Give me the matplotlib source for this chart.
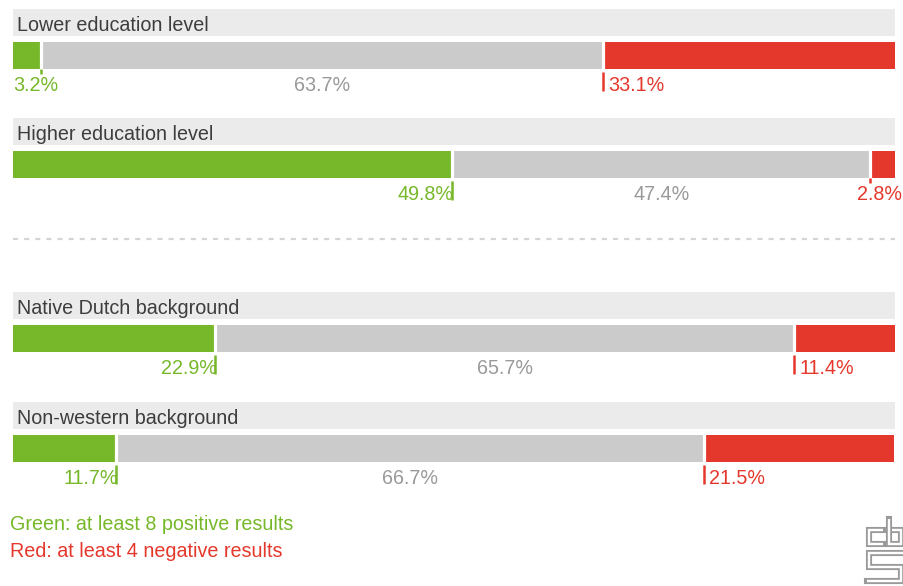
import matplotlib
matplotlib.use("Agg")
import matplotlib.pyplot as plt
import numpy as np

# ---- data ----
groups = ["Lower education level", "Higher education level",
          "Native Dutch background", "Non-western background"]
green_vals = [3.2, 49.8, 22.9, 11.7]
grey_vals = [63.7, 47.4, 65.7, 66.7]
red_vals = [33.1, 2.8, 11.4, 21.5]
legend_green = "Green: at least 8 positive results"
legend_red = "Red: at least 4 negative results"

# ---- style ----
GREEN = "#77b82a"
GREY = "#cbcbcb"
RED = "#e5382c"
BAND = "#ebebeb"
TITLE_C = "#3d3d3d"
GREY_TXT = "#999999"
DASH_C = "#d4d4d4"
LOGO_C = "#9a9a9a"

FONT = ["Liberation Sans", "DejaVu Sans"]
FS = 14.2

W, H = 904, 586
fig = plt.figure(figsize=(W / 100, H / 100), dpi=100)
fig.patch.set_facecolor("white")

X0, X1 = 13, 895
PXU = 100.0 / (X1 - X0)  # data units per pixel
ax = fig.add_axes([X0 / W, 0, (X1 - X0) / W, 1])
ax.set_xlim(0, 100)
ax.set_ylim(H, 0)
ax.axis("off")

bar_tops = [42, 151, 325, 435]
BAR_H = 27


def txt(x, y, s, color, ha="left"):
    ax.text(x, y, s, color=color, ha=ha, va="baseline", fontsize=FS,
            family=FONT, clip_on=False)


for i, name in enumerate(groups):
    top = bar_tops[i]
    bot = top + BAR_H
    # title band
    ax.barh(top - 19.5, 100, left=0, height=27, color=BAND, zorder=1)
    txt(4 * PXU, top - 11, name, TITLE_C)
    vals = [green_vals[i], grey_vals[i], red_vals[i]]
    lefts = np.concatenate([[0], np.cumsum(vals)[:-1]])
    ax.barh(top + BAR_H / 2, vals, left=lefts, height=BAR_H,
            color=[GREEN, GREY, RED], zorder=2)
    b1 = green_vals[i]
    b2 = green_vals[i] + grey_vals[i]
    ax.vlines([b1, b2], top - 1, bot + 1, colors="white", lw=2.3, zorder=3)
    ly = bot + 22
    # green label + tick
    if b1 < 6:
        txt(0, ly, f"{green_vals[i]:.1f}%", GREEN, "left")
        ax.vlines(b1, bot, bot + 5, colors=GREEN, lw=1.8, zorder=3)
    else:
        txt(b1 + 1.5 * PXU, ly, f"{green_vals[i]:.1f}%", GREEN, "right")
        ax.vlines(b1, bot + 3, bot + 22, colors=GREEN, lw=1.8, zorder=3)
    # grey label
    txt((b1 + b2) / 2, ly, f"{grey_vals[i]:.1f}%", GREY_TXT, "center")
    # red label + tick
    if red_vals[i] < 6:
        txt(100 + 7 * PXU, ly, f"{red_vals[i]:.1f}%", RED, "right")
        ax.vlines(b2, bot, bot + 5, colors=RED, lw=1.8, zorder=3)
    else:
        txt(b2 + 5 * PXU, ly, f"{red_vals[i]:.1f}%", RED, "left")
        ax.vlines(b2, bot + 3, bot + 22, colors=RED, lw=1.8, zorder=3)

# dashed separator
ax.hlines(239, 0, 100, colors=DASH_C, lw=1.6, linestyles=(0, (2.3, 2.7)))

# legend texts
ax.text(-3 * PXU, 530, legend_green, color=GREEN, ha="left", va="baseline",
        fontsize=FS, family=FONT, clip_on=False)
ax.text(-3 * PXU, 557, legend_red, color=RED, ha="left", va="baseline",
        fontsize=FS, family=FONT, clip_on=False)

# logo (pixel coordinate overlay)
lax = fig.add_axes([0, 0, 1, 1])
lax.set_xlim(0, W)
lax.set_ylim(H, 0)
lax.axis("off")
lax.patch.set_alpha(0)
paths = [
    [(883, 530), (869.5, 530), (869.5, 544), (883, 544)],
    [(889.5, 518.5), (889.5, 544), (901, 544), (901, 530), (892, 530)],
    [(906, 553), (869.5, 553), (869.5, 566.5), (901, 566.5), (901, 580.5), (867, 580.5)],
]
for p in paths:
    xs, ys = zip(*p)
    lax.plot(xs, ys, color=LOGO_C, lw=4.4, solid_joinstyle="miter",
             solid_capstyle="projecting")
    lax.plot(xs, ys, color="white", lw=1.7, solid_joinstyle="miter",
             solid_capstyle="butt")

fig.savefig("out.png", dpi=100, facecolor="white")
